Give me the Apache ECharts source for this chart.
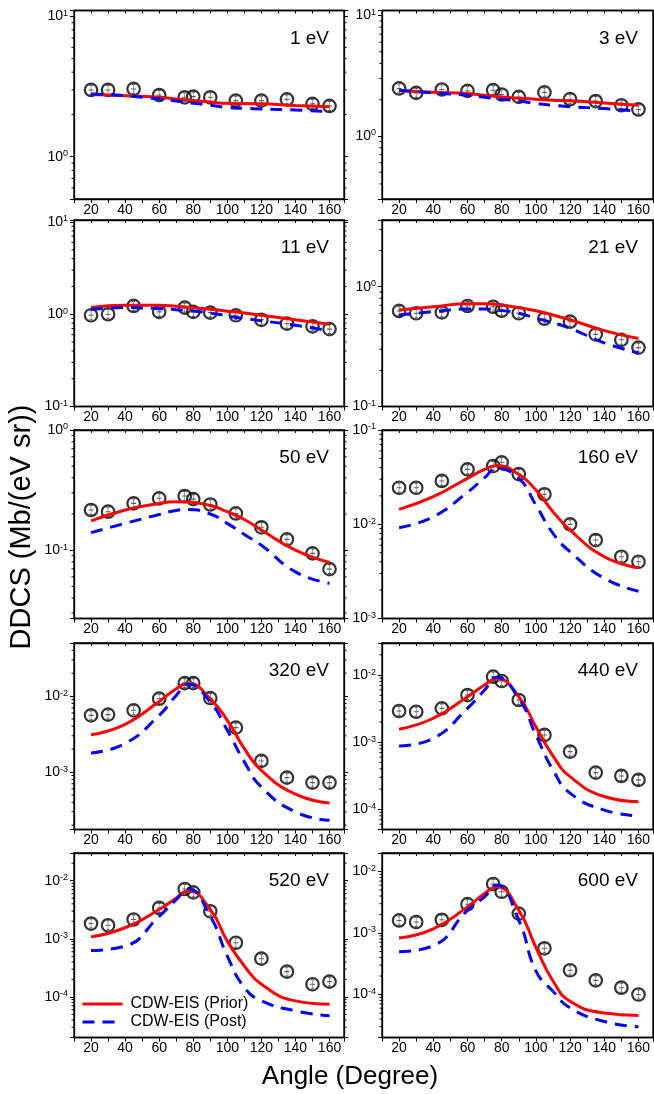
<!DOCTYPE html>
<html><head><meta charset="utf-8">
<script src="https://cdn.jsdelivr.net/npm/echarts/dist/echarts.min.js"></script>
<style>html,body{margin:0;padding:0;background:#fff}#c{width:654px;height:1094px}</style>
</head><body><div id="c"></div>
<script>
// ---------------- data ----------------
const expAngles = [20, 30, 45, 60, 75, 80, 90, 105, 120, 135, 150, 160];
const thAngles  = [20, 40, 60, 70, 77, 90, 100, 110, 120, 140, 160];
const xTickLabels = [20, 40, 60, 80, 100, 120, 140, 160];
const energyLabels = ['1 eV','3 eV','11 eV','21 eV','50 eV','160 eV','320 eV','440 eV','520 eV','600 eV'];

const exp1   = [2.99, 2.99, 3.04, 2.75, 2.65, 2.68, 2.65, 2.51, 2.51, 2.56, 2.38, 2.30];
const prior1 = [2.77, 2.72, 2.65, 2.58, 2.53, 2.45, 2.40, 2.39, 2.38, 2.32, 2.27];
const post1  = [2.80, 2.72, 2.58, 2.49, 2.43, 2.33, 2.24, 2.21, 2.19, 2.15, 2.09];

const exp3   = [2.48, 2.28, 2.43, 2.37, 2.40, 2.21, 2.11, 2.30, 2.02, 1.95, 1.80, 1.66];
const prior3 = [2.37, 2.31, 2.25, 2.18, 2.13, 2.06, 2.02, 1.98, 1.96, 1.88, 1.80];
const post3  = [2.40, 2.28, 2.18, 2.10, 2.04, 1.95, 1.86, 1.80, 1.75, 1.69, 1.61];

const exp11   = [0.975, 1.0, 1.23, 1.06, 1.18, 1.06, 1.04, 0.975, 0.87, 0.79, 0.74, 0.69];
const prior11 = [1.18, 1.25, 1.25, 1.22, 1.19, 1.13, 1.08, 1.03, 0.975, 0.87, 0.78];
const post11  = [1.13, 1.18, 1.15, 1.12, 1.10, 1.03, 0.96, 0.90, 0.85, 0.76, 0.66];

const exp21   = [0.627, 0.60, 0.61, 0.69, 0.68, 0.63, 0.60, 0.54, 0.51, 0.40, 0.36, 0.31];
const prior21 = [0.64, 0.68, 0.72, 0.72, 0.71, 0.67, 0.63, 0.58, 0.53, 0.43, 0.37];
const post21  = [0.58, 0.62, 0.65, 0.65, 0.64, 0.60, 0.545, 0.50, 0.45, 0.34, 0.28];

const exp50   = [0.216, 0.209, 0.245, 0.27, 0.282, 0.266, 0.24, 0.202, 0.155, 0.123, 0.094, 0.0695];
const prior50 = [0.175, 0.216, 0.245, 0.253, 0.252, 0.235, 0.209, 0.18, 0.147, 0.10, 0.079];
const post50  = [0.14, 0.167, 0.198, 0.214, 0.218, 0.20, 0.167, 0.135, 0.11, 0.066, 0.053];

const exp160   = [0.0244, 0.0244, 0.0288, 0.0382, 0.0415, 0.0454, 0.0341, 0.0208, 0.00997, 0.0068, 0.00452, 0.004];
const prior160 = [0.0144, 0.0196, 0.0307, 0.0382, 0.0418, 0.0338, 0.0231, 0.0136, 0.00867, 0.00452, 0.00345];
const post160  = [0.0092, 0.012, 0.0218, 0.0312, 0.039, 0.0307, 0.016, 0.008, 0.0051, 0.00267, 0.00195];

const exp320   = [0.00557, 0.0057, 0.00649, 0.00924, 0.0148, 0.0148, 0.0094, 0.00384, 0.0014, 0.000843, 0.000725, 0.000725];
const prior320 = [0.0031, 0.00425, 0.0085, 0.0125, 0.0148, 0.0092, 0.0048, 0.00203, 0.00105, 0.00051, 0.00039];
const post320  = [0.00178, 0.00237, 0.00557, 0.0102, 0.0143, 0.00834, 0.00354, 0.00136, 0.000635, 0.000298, 0.000231];

const exp440   = [0.00291, 0.00284, 0.00319, 0.00503, 0.00944, 0.00815, 0.00425, 0.00128, 0.000723, 0.000352, 0.000314, 0.000274];
const prior440 = [0.00156, 0.00227, 0.00475, 0.0071, 0.0089, 0.00475, 0.0017, 0.000624, 0.000307, 0.000155, 0.00013];
const post440  = [0.000877, 0.00114, 0.00319, 0.00598, 0.00924, 0.0045, 0.00128, 0.000386, 0.000174, 0.0000973, 0.00008];

const exp520   = [0.00183, 0.00171, 0.00215, 0.0034, 0.0072, 0.0063, 0.00298, 0.000855, 0.000455, 0.000272, 0.000165, 0.000183];
const prior520 = [0.00108, 0.00155, 0.00319, 0.00505, 0.00674, 0.00319, 0.000912, 0.00034, 0.000165, 0.0000855, 0.000075];
const post520  = [0.00063, 0.000748, 0.00244, 0.00472, 0.0072, 0.00244, 0.000505, 0.000145, 0.0000855, 0.0000575, 0.0000472];

const exp600   = [0.0016, 0.00151, 0.00164, 0.00294, 0.00627, 0.00469, 0.00207, 0.000564, 0.000248, 0.00017, 0.000129, 0.0001];
const prior600 = [0.00083, 0.00117, 0.00266, 0.0044, 0.00566, 0.00234, 0.000585, 0.000166, 0.0000777, 0.00005, 0.0000457];
const post600  = [0.000495, 0.000622, 0.00234, 0.00388, 0.00603, 0.0016, 0.000242, 0.000113, 0.0000605, 0.0000364, 0.00003];

const yMins = [0.5, 0.3, 0.1, 0.1, 0.027, 0.001, 0.000175, 0.00005, 0.00002, 0.00002];
const yMaxs = [11, 11, 10.5, 3.6, 1, 0.1, 0.05, 0.03, 0.03, 0.02];

const expSets   = [exp1, exp3, exp11, exp21, exp50, exp160, exp320, exp440, exp520, exp600];
const priorSets = [prior1, prior3, prior11, prior21, prior50, prior160, prior320, prior440, prior520, prior600];
const postSets  = [post1, post3, post11, post21, post50, post160, post320, post440, post520, post600];

// ---------------- layout ----------------
const FONT = '"Liberation Sans", Arial, sans-serif';
const colL = [74, 382], colW = [270, 271];
const rowT = [10.5, 220, 430, 643, 853], rowH = [188.5, 186.5, 188.5, 186.5, 184.5];
const X_MIN = 10, X_MAX = 168.5;

const grid = [], xAxis = [], yAxis = [], series = [], graphic = [];

function yLabel(v) {
  const l = Math.log10(v), e = Math.round(l);
  if (Math.abs(l - e) > 1e-6) return '';
  return '{b|10}{s|' + (e < 0 ? '-' + (-e) : e) + '}';
}
function minorTicks(mn, mx) {
  const out = [];
  for (let k = Math.floor(Math.log10(mn)) - 1; k <= Math.ceil(Math.log10(mx)); k++) {
    for (let m = 2; m <= 9; m++) {
      const v = m * Math.pow(10, k);
      if (v > mn * 1.0001 && v < mx * 0.9999) out.push([X_MIN, v]);
    }
  }
  return out;
}
const axisLine = {show: true, onZero: false, lineStyle: {color: '#000', width: 1.3}};

energyLabels.forEach((lab, i) => {
  const r = Math.floor(i / 2), c = i % 2;
  grid.push({left: colL[c], top: rowT[r], width: colW[c], height: rowH[r], show: true,
    borderColor: '#000', borderWidth: 1.3, backgroundColor: 'transparent', containLabel: false, outerBoundsMode: 'none'});
  xAxis.push({gridIndex: i, type: 'value', min: X_MIN, max: X_MAX, interval: 10, position: 'bottom',
    axisLine, axisTick: {show: true, length: 4, lineStyle: {color: '#000', width: 1}},
    axisLabel: {show: true, margin: 4, fontSize: 14, color: '#000', fontFamily: FONT,
      formatter: v => xTickLabels.indexOf(Math.round(v * 1000) / 1000) >= 0 ? String(v) : ''},
    splitLine: {show: false}});
  xAxis.push({gridIndex: i, type: 'value', min: X_MIN, max: X_MAX, interval: 10, position: 'top',
    axisLine, axisTick: {show: true, inside: true, length: 3, lineStyle: {color: '#000', width: 1}},
    axisLabel: {show: false}, splitLine: {show: false}});
  yAxis.push({gridIndex: i, type: 'log', logBase: 10, min: yMins[i], max: yMaxs[i], position: 'left',
    axisLine, axisTick: {show: true, length: 4, lineStyle: {color: '#000', width: 1}},
    axisLabel: {show: true, margin: 6, formatter: yLabel, color: '#000',
      rich: {b: {fontSize: 14, fontFamily: FONT, color: '#000'},
             s: {fontSize: 9, fontFamily: FONT, color: '#000', verticalAlign: 'top', padding: [0, 0, 6, 0]}}},
    splitLine: {show: false}, minorTick: {show: false}});
  yAxis.push({gridIndex: i, type: 'log', logBase: 10, min: yMins[i], max: yMaxs[i], position: 'right',
    axisLine, axisTick: {show: true, length: 4, lineStyle: {color: '#000', width: 1}},
    axisLabel: {show: false}, splitLine: {show: false}});

  const xi = 2 * i, yi = 2 * i;
  series.push({type: 'custom', xAxisIndex: xi, yAxisIndex: yi, silent: true, clip: false, z: 1,
    data: minorTicks(yMins[i], yMaxs[i]),
    renderItem: (params, api) => {
      const v = api.value(1);
      const pL = api.coord([X_MIN, v]), pR = api.coord([X_MAX, v]);
      return {type: 'group', children: [
        {type: 'line', shape: {x1: pL[0] - 2.5, y1: pL[1], x2: pL[0], y2: pL[1]}, style: {stroke: '#000', lineWidth: 1}},
        {type: 'line', shape: {x1: pR[0], y1: pR[1], x2: pR[0] + 2.5, y2: pR[1]}, style: {stroke: '#000', lineWidth: 1}}
      ]};
    }});
  const expData = expAngles.map((a, k) => [a, expSets[i][k]]);
  series.push({type: 'scatter', name: 'Exp', xAxisIndex: xi, yAxisIndex: yi, data: expData, z: 2, silent: true,
    symbol: 'circle', symbolSize: 12.5, itemStyle: {color: 'rgba(0,0,0,0)', borderColor: '#000', borderWidth: 2.2}});
  series.push({type: 'scatter', name: 'ExpErr', xAxisIndex: xi, yAxisIndex: yi, data: expData, z: 2, silent: true,
    symbol: 'path://M3,0L3,10M1.5,0L4.5,0M1.5,10L4.5,10M0.8,5L5.2,5', symbolSize: [5, 9],
    itemStyle: {color: 'rgba(0,0,0,0)', borderColor: '#333', borderWidth: 0.8}});
  series.push({type: 'line', name: 'CDW-EIS (Prior)', xAxisIndex: xi, yAxisIndex: yi, z: 3, silent: true,
    data: thAngles.map((a, k) => [a, priorSets[i][k]]), smooth: 0.5,
    symbol: 'none', showSymbol: false, lineStyle: {color: '#ff0000', width: 3}, itemStyle: {color: '#ff0000'}});
  series.push({type: 'line', name: 'CDW-EIS (Post)', xAxisIndex: xi, yAxisIndex: yi, z: 3, silent: true,
    data: thAngles.map((a, k) => [a, postSets[i][k]]), smooth: 0.5,
    symbol: 'none', showSymbol: false, lineStyle: {color: '#0000ff', width: 3, type: [12, 8]}, itemStyle: {color: '#0000ff'}});

  graphic.push({type: 'text', x: colL[c] + colW[c] - 15, y: rowT[r] + 28, silent: true,
    style: {text: lab, fill: '#000', font: '19px ' + FONT, align: 'right', verticalAlign: 'middle'}});
});

graphic.push({type: 'text', x: 22, y: 527, rotation: Math.PI / 2, silent: true,
  style: {text: 'DDCS (Mb/(eV sr))', fill: '#000', font: '29px ' + FONT, align: 'center', verticalAlign: 'middle'}});
graphic.push({type: 'text', x: 350, y: 1077, silent: true,
  style: {text: 'Angle (Degree)', fill: '#000', font: '26px ' + FONT, align: 'center', verticalAlign: 'middle'}});

const chart = echarts.init(document.getElementById('c'), null, {renderer: 'canvas'});
chart.setOption({
  animation: false,
  backgroundColor: '#fff',
  grid, xAxis, yAxis, series, graphic,
  legend: {data: ['CDW-EIS (Prior)', 'CDW-EIS (Post)'], orient: 'vertical', left: 76, top: 991,
    itemWidth: 40, itemHeight: 12, itemGap: 2, selectedMode: false,
    itemStyle: {opacity: 0}, lineStyle: {width: 3},
    textStyle: {fontSize: 16, fontFamily: FONT, color: '#000', padding: [0, 0, 0, 3]}}
});
</script></body></html>
